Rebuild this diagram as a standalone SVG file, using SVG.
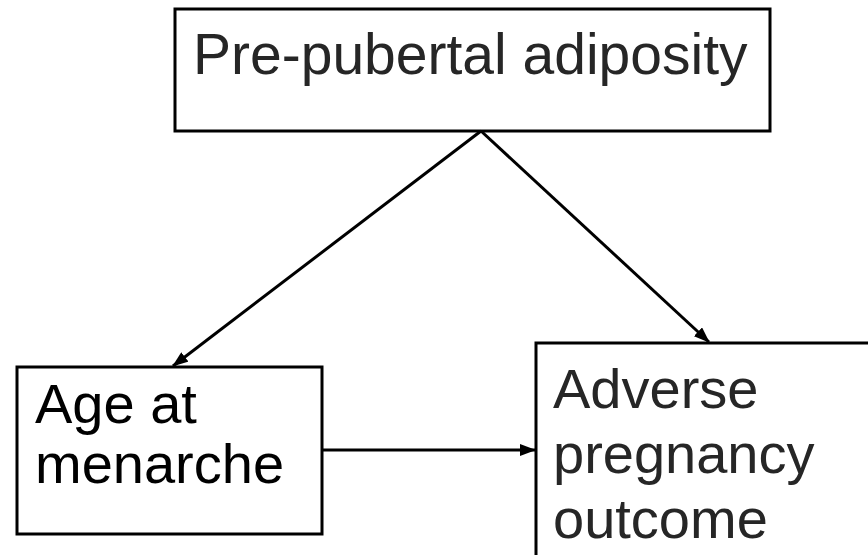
<svg xmlns="http://www.w3.org/2000/svg" width="868" height="555" viewBox="0 0 868 555">
<style>
.box{fill:#fff;stroke:#000;stroke-width:3}
.t{font-family:"Liberation Sans",Arial,sans-serif;font-size:56px;fill:#262626}
.c{stroke:#000;stroke-width:3;fill:none}
</style>
<defs>
<marker id="ah" viewBox="0 0 16 12" refX="15" refY="6" markerWidth="16" markerHeight="12" markerUnits="userSpaceOnUse" orient="auto">
<path d="M0,0 L16,6 L0,12 Z" fill="#000"/>
</marker>
</defs>
<rect width="868" height="555" fill="#fff"/>
<g id="pre-pubertal">
<rect class="box" x="175" y="9" width="595" height="122"/>
<text class="t" x="193" y="74" style="font-size:57px">Pre-pubertal adiposity</text>
</g>
<g id="menarche">
<rect class="box" x="17" y="367" width="305" height="167"/>
<text class="t" x="35" y="423" style="font-size:56px;fill:#000">Age at</text>
<text class="t" x="35" y="483" style="font-size:56px;fill:#000">menarche</text>
</g>
<g id="outcome">
<rect class="box" x="536" y="343" width="340" height="230"/>
<text class="t" x="553" y="408">Adverse</text>
<text class="t" x="553" y="473">pregnancy</text>
<text class="t" x="553" y="538">outcome</text>
</g>
<g id="connectors">
<line class="c" x1="481" y1="131" x2="173" y2="366" marker-end="url(#ah)"/>
<line class="c" x1="481" y1="131" x2="709" y2="342" marker-end="url(#ah)"/>
<line class="c" x1="322" y1="450" x2="535" y2="450" marker-end="url(#ah)"/>
</g>
</svg>
